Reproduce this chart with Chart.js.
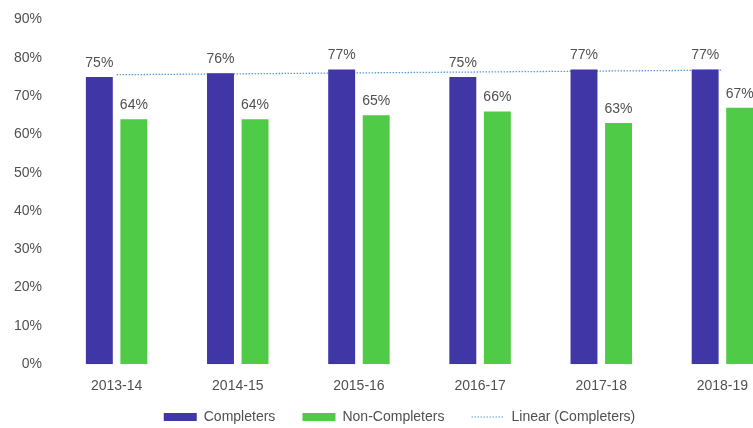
<!DOCTYPE html>
<html>
<head>
<meta charset="utf-8">
<script src="https://cdn.jsdelivr.net/npm/chart.js@4/dist/chart.umd.min.js"></script>
<style>
html,body{margin:0;padding:0;background:#fff;overflow:hidden;width:753px;height:428px;}
#wrap{position:relative;width:790px;height:434px;}
</style>
</head>
<body>
<div id="wrap"><canvas id="c"></canvas></div>
<script>
const categories = ['2013-14','2014-15','2015-16','2016-17','2017-18','2018-19'];
const completers = [75, 76, 77, 75, 77, 77];
const nonCompleters = [64, 64, 65, 66, 63, 67];
const trendCompleters = [75.6, null, null, null, null, 76.8];
const yTicks = [0,10,20,30,40,50,60,70,80,90];
const seriesNames = ['Completers', 'Non-Completers', 'Linear (Completers)'];

const FONT = "'Liberation Sans', Arial, sans-serif";
const TXT = '#505050';
const GAP = '      \u2009';

const dataLabels = {
  id: 'dataLabels',
  afterDatasetsDraw(chart) {
    const ctx = chart.ctx;
    ctx.save();
    ctx.font = '14px ' + FONT;
    ctx.fillStyle = TXT;
    ctx.textAlign = 'center';
    ctx.textBaseline = 'alphabetic';
    [0,1].forEach(di => {
      const meta = chart.getDatasetMeta(di);
      meta.data.forEach((el, i) => {
        const v = chart.data.datasets[di].data[i];
        ctx.fillText(v + '%', el.x, el.y - 10);
      });
    });
    ctx.restore();
  }
};

const legendShift = {
  id: 'legendShift',
  afterLayout(chart) {
    const lg = chart.legend;
    if (!lg) return;
    lg.left += 8; lg.right += 8;
    if (lg.legendHitBoxes) lg.legendHitBoxes.forEach(h => { h.left += 8; });
  }
};

const legendLine = {
  id: 'legendLine',
  afterDraw(chart) {
    const lg = chart.legend;
    if (!lg || !lg.legendHitBoxes) return;
    const hb = lg.legendHitBoxes[2];
    if (!hb) return;
    const ctx = chart.ctx;
    ctx.save();
    ctx.strokeStyle = '#5b9bd5';
    ctx.lineWidth = 1.2;
    ctx.setLineDash([1.5, 1.5]);
    const y = hb.top + hb.height / 2;
    ctx.beginPath();
    ctx.moveTo(hb.left, y);
    ctx.lineTo(hb.left + 33, y);
    ctx.stroke();
    ctx.restore();
  }
};

new Chart(document.getElementById('c'), {
  type: 'bar',
  data: {
    labels: categories,
    datasets: [
      { label: seriesNames[0], data: completers, backgroundColor: '#4036a6', barPercentage: 0.78, categoryPercentage: 0.57 },
      { label: seriesNames[1], data: nonCompleters, backgroundColor: '#4fcb47', barPercentage: 0.78, categoryPercentage: 0.57 },
      { type: 'line', label: seriesNames[2], data: trendCompleters, spanGaps: true,
        borderColor: '#5b9bd5', backgroundColor: 'rgba(0,0,0,0)', borderWidth: 1.3, borderDash: [1.5, 1.5],
        pointRadius: 0, fill: false, tension: 0 }
    ]
  },
  options: {
    responsive: true,
    maintainAspectRatio: false,
    animation: false,
    devicePixelRatio: 1,
    layout: { padding: { top: 4, left: 0, right: 7, bottom: 0 } },
    scales: {
      x: {
        grid: { display: false, drawTicks: false }, border: { display: false },
        ticks: { font: { family: FONT, size: 14 }, color: TXT, padding: 14 }
      },
      y: {
        min: 0, max: 90,
        grid: { display: false, drawTicks: false }, border: { display: false },
        afterBuildTicks(scale) { scale.ticks = yTicks.map(v => ({ value: v })); },
        ticks: { font: { family: FONT, size: 14, lineHeight: 0.8 }, color: TXT, padding: 14, callback: v => v + '%' }
      }
    },
    plugins: {
      tooltip: { enabled: false },
      legend: {
        position: 'bottom',
        labels: {
          font: { family: FONT, size: 14 }, color: TXT, boxWidth: 33, boxHeight: 8, padding: 1,
          generateLabels(chart) {
            return chart.data.datasets.map((ds, i) => ({
              text: i < 2 ? ds.label + GAP : ds.label,
              fillStyle: i === 2 ? 'rgba(0,0,0,0)' : ds.backgroundColor,
              strokeStyle: 'rgba(0,0,0,0)',
              lineWidth: 0,
              fontColor: TXT,
              hidden: false,
              datasetIndex: i
            }));
          }
        }
      }
    }
  },
  plugins: [dataLabels, legendShift, legendLine]
});
</script>
</body>
</html>
